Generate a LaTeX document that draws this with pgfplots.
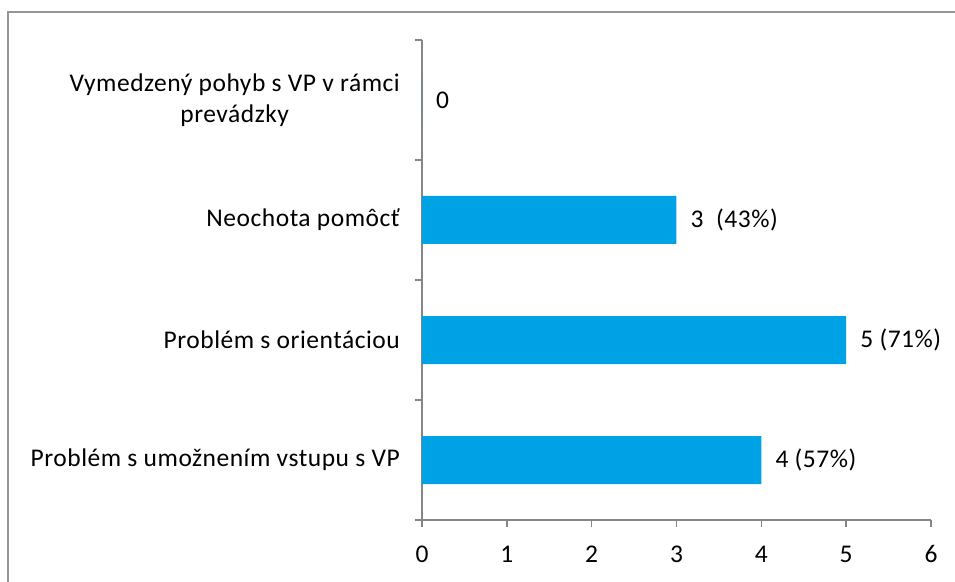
\documentclass[border=0pt]{standalone}
\usepackage{pgfplots}
\pgfplotsset{compat=1.18}
\usepackage{fontspec}
\setmainfont{Carlito}[LetterSpace=2]
\definecolor{barblue}{RGB}{0,162,230}
\definecolor{axgray}{RGB}{134,134,134}
\definecolor{framegray}{RGB}{150,150,150}
\begin{document}
\fontsize{25.5}{31}\selectfont
\begin{tikzpicture}[x=1pt,y=1pt]
\path[use as bounding box] (-422,-61) rectangle (533,520);
\draw[line width=2pt, framegray] (-414,-62) -- (-414,508) -- (534,508);
\begin{axis}[
  at={(0,0)}, anchor=south west,
  scale only axis, width=509pt, height=480pt,
  xmin=0, xmax=6, ymin=-0.5, ymax=3.5,
  axis x line*=bottom, axis y line*=left,
  axis line style={axgray, line width=1.5pt, -},
  xtick={0,1,2,3,4,5,6},
  ytick={-0.5,0.5,1.5,2.5,3.5}, yticklabels={},
  tick align=outside, major tick length=7pt,
  tick style={axgray, line width=1.5pt},
  extra y ticks={0,1,2,3},
  extra y tick labels={{Problém s umožnením vstupu s VP},{Problém s orientáciou},{Neochota pomôcť},{Vymedzený pohyb s VP v rámci\\prevádzky}},
  extra y tick style={major tick length=0pt, tick style={draw=none}},
  yticklabel style={align=center, inner sep=0pt, xshift=-22pt, font=\fontsize{25.5}{31}\selectfont},
  xticklabel style={inner sep=0pt, anchor=north, text height=16pt, text depth=0pt, yshift=-19pt, font=\fontsize{25.5}{31}\selectfont},
  /pgf/number format/assume math mode=true,
  xbar, bar width=48pt,
  point meta=explicit symbolic,
  nodes near coords,
  every node near coord/.append style={anchor=west, xshift=14pt, inner sep=0pt, font=\fontsize{25.5}{31}\selectfont},
]
\addplot[fill=barblue, draw=none] coordinates {
  (4,0) [4 (57\%)]
  (5,1) [5 (71\%)]
  (3,2) [3\ \ (43\%)]
  (0,3) [0]
};
\end{axis}
\end{tikzpicture}
\end{document}
